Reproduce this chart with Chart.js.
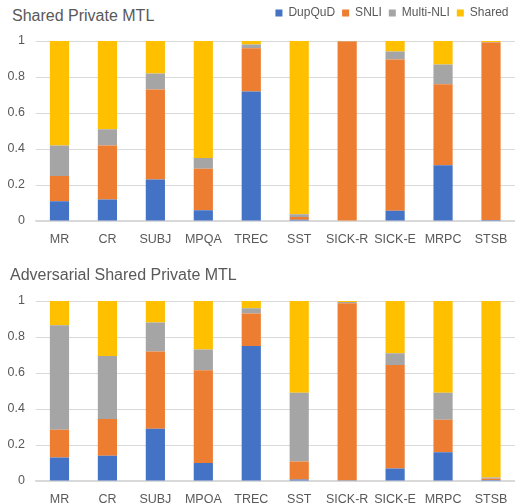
<!DOCTYPE html>
<html>
<head>
<meta charset="utf-8">
<script src="https://cdn.jsdelivr.net/npm/chart.js@4"></script>
<style>
  html, body { margin: 0; padding: 0; background: #ffffff; }
  body { width: 519px; height: 503px; position: relative; overflow: hidden; font-family: "Liberation Sans", Arial, sans-serif; }
  .title { position: absolute; font-size: 16px; line-height: 18px; color: #595959; white-space: nowrap; }
  canvas { position: absolute; left: 0; }
</style>
</head>
<body>
<div class="title" id="t1" style="left:12px; top:7px;">Shared Private MTL</div>
<canvas id="c1" width="519" height="250" style="top:0px;"></canvas>
<canvas id="c2" width="519" height="253" style="top:250px;"></canvas>
<div class="title" id="t2" style="left:10px; top:266px;">Adversarial Shared Private MTL</div>
<script>
const categories = ["MR", "CR", "SUBJ", "MPQA", "TREC", "SST", "SICK-R", "SICK-E", "MRPC", "STSB"];
const seriesNames = ["DupQuD", "SNLI", "Multi-NLI", "Shared"];
const yTicks = [0, 0.2, 0.4, 0.6, 0.8, 1];

// Shared Private MTL
const spDupQuD  = [0.11, 0.12, 0.23, 0.06, 0.72, 0.007, 0.000, 0.057, 0.31, 0.006];
const spSNLI    = [0.14, 0.30, 0.50, 0.23, 0.24, 0.015, 0.997, 0.840, 0.45, 0.985];
const spMulti   = [0.17, 0.09, 0.09, 0.06, 0.02, 0.016, 0.002, 0.044, 0.11, 0.003];
const spShared  = [0.58, 0.49, 0.18, 0.65, 0.02, 0.962, 0.001, 0.059, 0.13, 0.006];

// Adversarial Shared Private MTL
const aspDupQuD = [0.13, 0.14, 0.29, 0.10, 0.75, 0.008, 0.004, 0.07, 0.16, 0.006];
const aspSNLI   = [0.155, 0.205, 0.43, 0.515, 0.18, 0.10, 0.983, 0.575, 0.18, 0.007];
const aspMulti  = [0.58, 0.35, 0.16, 0.115, 0.03, 0.382, 0.008, 0.065, 0.15, 0.006];
const aspShared = [0.135, 0.305, 0.12, 0.27, 0.04, 0.51, 0.005, 0.29, 0.51, 0.981];

const colors = ["#4472C4", "#ED7D31", "#A5A5A5", "#FFC000"];
const textColor = "#595959";
const gridColor = "#d9d9d9";
const fontFamily = "'Liberation Sans', Arial, sans-serif";

function makeDatasets(arrs) {
  return arrs.map((d, i) => ({
    label: seriesNames[i],
    data: d,
    backgroundColor: colors[i],
    borderWidth: 0,
    categoryPercentage: 0.8,
    barPercentage: 0.5
  }));
}

function makeOptions(showLegend, padTop, xHeight) {
  return {
    responsive: false,
    animation: false,
    layout: { padding: { top: padTop, left: 0, right: 3.5, bottom: 0 } },
    plugins: {
      title: { display: false },
      tooltip: { enabled: false },
      legend: {
        display: showLegend,
        position: 'top',
        align: 'end',
        labels: {
          boxWidth: 7,
          boxHeight: 7,
          padding: 7,
          color: textColor,
          font: { family: fontFamily, size: 12 }
        }
      }
    },
    scales: {
      x: {
        stacked: true,
        grid: { display: false, drawTicks: false },
        border: { display: true, color: gridColor, width: 1.5 },
        ticks: { color: textColor, padding: 11.5, font: { family: fontFamily, size: 12.5 }, maxRotation: 0, autoSkip: false },
        afterFit: (s) => { s.height = xHeight; }
      },
      y: {
        stacked: true,
        min: 0,
        max: 1,
        afterBuildTicks: (s) => { s.ticks = yTicks.map(v => ({ value: v })); },
        grid: { color: gridColor, lineWidth: 1, drawTicks: false },
        border: { display: false },
        ticks: {
          color: textColor,
          padding: 10.5,
          font: { family: fontFamily, size: 12.5 },
          callback: (v) => String(Math.round(v * 10) / 10)
        },
        afterFit: (s) => { s.width = 35.5; }
      }
    }
  };
}

const legendHeightPlugin = {
  id: 'legendHeight',
  beforeLayout(chart) {
    if (chart.legend && !chart.legend._patched) {
      const origFit = chart.legend.fit;
      chart.legend.fit = function () {
        origFit.call(this);
        this.height = 41;
      };
      chart.legend._patched = true;
    }
  }
};

new Chart(document.getElementById('c1'), {
  type: 'bar',
  data: { labels: categories, datasets: makeDatasets([spDupQuD, spSNLI, spMulti, spShared]) },
  options: makeOptions(true, 0, 29),
  plugins: [legendHeightPlugin]
});

new Chart(document.getElementById('c2'), {
  type: 'bar',
  data: { labels: categories, datasets: makeDatasets([aspDupQuD, aspSNLI, aspMulti, aspShared]) },
  options: makeOptions(false, 51, 22)
});
</script>
</body>
</html>
